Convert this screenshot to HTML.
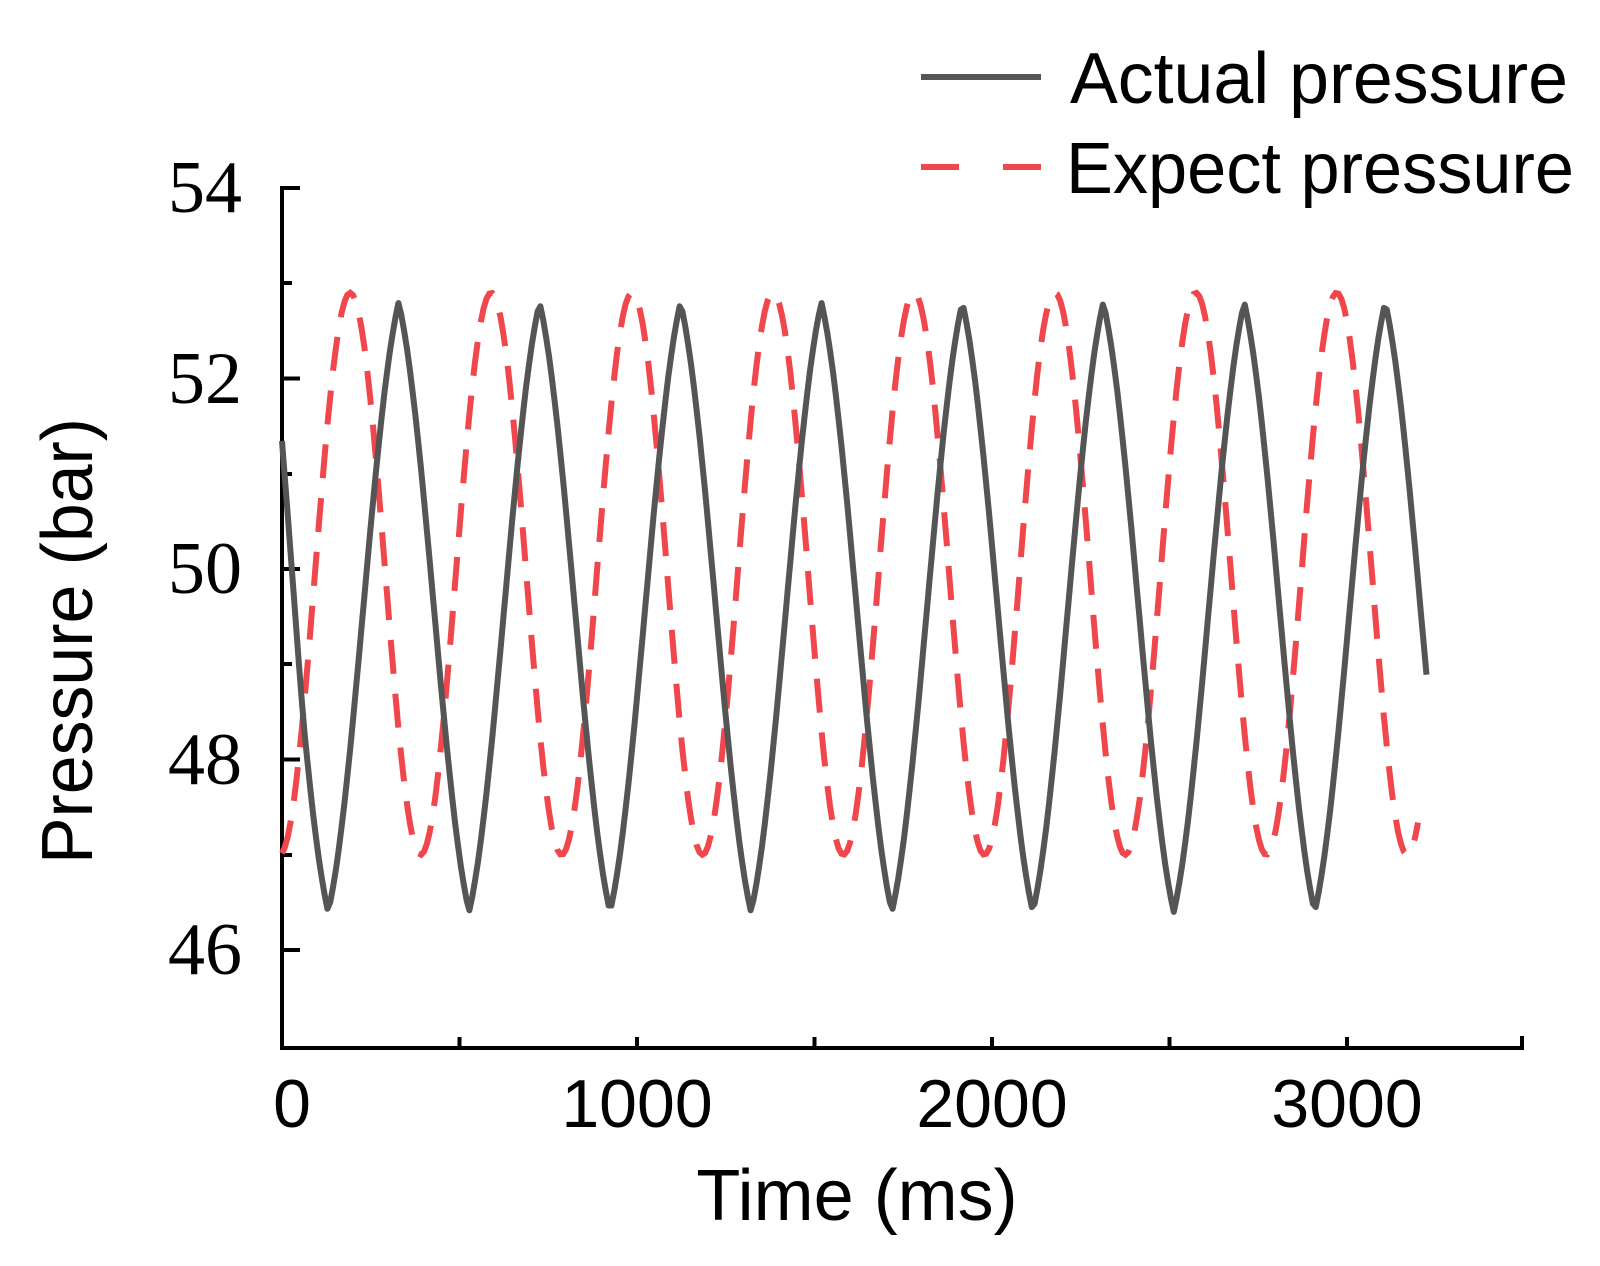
<!DOCTYPE html>
<html><head><meta charset="utf-8"><style>
html,body{margin:0;padding:0;background:#fff;}
svg{display:block;}
</style></head><body>
<svg id="s" width="1600" height="1266" viewBox="0 0 1600 1266" xmlns="http://www.w3.org/2000/svg">
<g stroke="#000" stroke-width="4" fill="none">
<line x1="282" y1="186" x2="282" y2="1050"/>
<line x1="280" y1="1048" x2="1524" y2="1048"/>
<line x1="1522" y1="1048" x2="1522" y2="1036"/>
<line x1="282" y1="188" x2="300" y2="188"/>
<line x1="282" y1="378.5" x2="300" y2="378.5"/>
<line x1="282" y1="569" x2="300" y2="569"/>
<line x1="282" y1="759.5" x2="300" y2="759.5"/>
<line x1="282" y1="950" x2="300" y2="950"/>
<line x1="282" y1="283" x2="292" y2="283"/>
<line x1="282" y1="474" x2="292" y2="474"/>
<line x1="282" y1="664" x2="292" y2="664"/>
<line x1="282" y1="855" x2="292" y2="855"/>
<line x1="459.5" y1="1048" x2="459.5" y2="1037"/>
<line x1="637" y1="1048" x2="637" y2="1037"/>
<line x1="814.5" y1="1048" x2="814.5" y2="1037"/>
<line x1="992" y1="1048" x2="992" y2="1037"/>
<line x1="1169.5" y1="1048" x2="1169.5" y2="1037"/>
<line x1="1347" y1="1048" x2="1347" y2="1037"/>
</g>
<g font-family="Liberation Serif, serif" font-size="74" text-anchor="end" fill="#000">
<text x="242" y="212">54</text>
<text x="242" y="403">52</text>
<text x="242" y="593">50</text>
<text x="242" y="784">48</text>
<text x="242" y="974">46</text>
</g>
<g font-family="Liberation Sans, sans-serif" font-size="68" text-anchor="middle" fill="#000">
<text x="292" y="1127">0</text>
<text x="637" y="1127">1000</text>
<text x="992" y="1127">2000</text>
<text x="1347" y="1127">3000</text>
<text x="857" y="1220" font-size="72">Time (ms)</text>
<text transform="translate(92,641) rotate(-90)" font-size="72" textLength="446" lengthAdjust="spacingAndGlyphs">Pressure (bar)</text>
</g>
<path id="red" fill="none" stroke="#f0474d" stroke-width="6" stroke-dasharray="34,20"/>
<path id="blk" fill="none" stroke="#555" stroke-width="6" stroke-linejoin="round"/>
<line x1="921" y1="77" x2="1041" y2="77" stroke="#555" stroke-width="6"/>
<line x1="921" y1="167" x2="1041" y2="167" stroke="#f0474d" stroke-width="6" stroke-dasharray="38,44"/>
<g font-family="Liberation Sans, sans-serif" font-size="72" fill="#000">
<text x="1070" y="103" textLength="498" lengthAdjust="spacingAndGlyphs">Actual pressure</text>
<text x="1066" y="193" textLength="508" lengthAdjust="spacingAndGlyphs">Expect pressure</text>
</g>
</svg>
<script>
function X(t){return 282+t*0.355;}
function Y(v){return 188+(54-v)*95.25;}
function shape(ph){var c=Math.cos(ph);var x=((ph/Math.PI)%2+2)%2;var tri=2*Math.abs(x-1)-1;return 0.5*c+0.5*tri;}
var P=397,b="",r="";
for(var t=0;t<=3225;t+=8){
 var vb=49.6-3.2*shape(2*Math.PI*(t-130)/P);
 if(t<60) vb+=(60-t)/60*0.5;
 b+=(t?"L":"M")+X(t).toFixed(1)+","+Y(vb).toFixed(1);
 if(t<=3205){
 var vr=49.95+2.95*Math.cos(2*Math.PI*(t-192)/P);
 r+=(t?"L":"M")+X(t).toFixed(1)+","+Y(vr).toFixed(1);}
}
document.getElementById("blk").setAttribute("d",b);
document.getElementById("red").setAttribute("d",r);
</script>
</body></html>
